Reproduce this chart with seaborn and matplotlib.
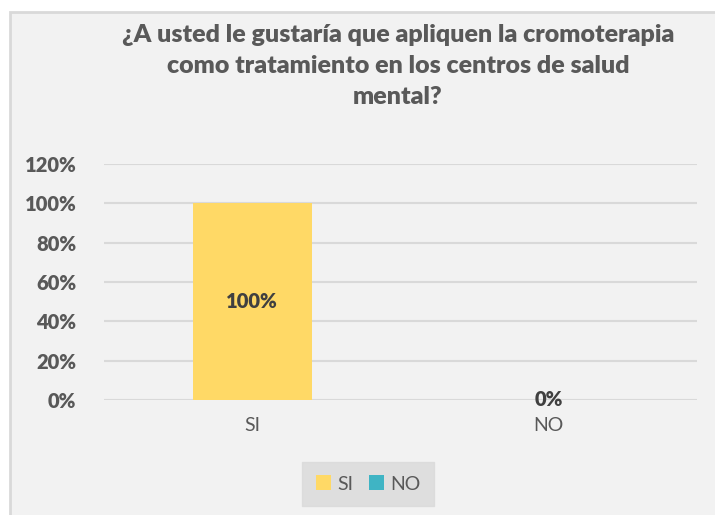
import pandas as pd
import seaborn as sns
import matplotlib.pyplot as plt
from matplotlib.patches import Rectangle

# datos
categorias = ["SI", "NO"]
valores = [1.00, 0.00]
etiquetas = ["100%", "0%"]
colores = ["#FFD966", "#3FB4C4"]
titulo = "¿A usted le gustaría que apliquen la cromoterapia\ncomo tratamiento en los centros de salud\nmental?"
ticks_y = [0, 0.2, 0.4, 0.6, 0.8, 1.0, 1.2]

df = pd.DataFrame({"respuesta": categorias, "porcentaje": valores})

sns.set_theme(style="white")
plt.rcParams["font.family"] = ["Lato", "DejaVu Sans"]
gris = "#595959"

fig = plt.figure(figsize=(7.15, 5.15), dpi=100, facecolor="white")
W, H = 715, 515

# fondo del area del grafico
fondo = Rectangle((10 / W, -0.1), 1, 1.1 - 12 / H, transform=fig.transFigure,
                  facecolor="#F2F2F2", edgecolor="#D9D9D9", lw=2)
fondo.set_zorder(-10)
fig.patches.append(fondo)

ax = fig.add_axes([104 / W, 115 / H, 593 / W, 236 / H])
ax.set_facecolor("none")

sns.barplot(data=df, x="respuesta", y="porcentaje", hue="respuesta",
            palette=colores, width=0.4, saturation=1, linewidth=0,
            ax=ax, legend=True, zorder=3)

ax.set_ylim(0, 1.2)
ax.set_yticks(ticks_y)
ax.set_yticklabels([f"{int(round(t * 100))}%" for t in ticks_y],
                   fontweight="heavy", fontsize=14.5, color=gris)
ax.tick_params(axis="x", labelsize=14, labelcolor=gris, pad=12)
ax.tick_params(axis="y", pad=20, length=0)
ax.tick_params(axis="x", length=0)
ax.set_xlabel("")
ax.set_ylabel("")
ax.yaxis.grid(True, color="#D9D9D9", lw=1.5, zorder=0)
ax.set_axisbelow(True)
for s in ax.spines.values():
    s.set_visible(False)

for i, (v, txt) in enumerate(zip(valores, etiquetas)):
    ax.text(i, v / 2, txt, ha="center", va="center", fontsize=14.5,
            fontweight="heavy", color="#404040", zorder=4)

handles, labels = ax.get_legend_handles_labels()
ax.get_legend().remove()
leg = fig.legend(handles, labels, loc="center", bbox_to_anchor=(368 / W, 31 / H),
                 ncol=2, frameon=True, fontsize=14, handlelength=0.8, handleheight=0.8,
                 handletextpad=0.3, columnspacing=0.8, borderpad=0.7)
leg.get_frame().set_facecolor("#D9D9D9")
leg.get_frame().set_edgecolor("#D9D9D9")
leg.get_frame().set_boxstyle("square", pad=0)
for t in leg.get_texts():
    t.set_color(gris)

fig.text(398 / W, 1 - 24 / H, titulo, ha="center", va="top", fontsize=18,
         fontweight="heavy", color=gris, linespacing=1.5)

fig.savefig("out.png", dpi=100, facecolor="white")
